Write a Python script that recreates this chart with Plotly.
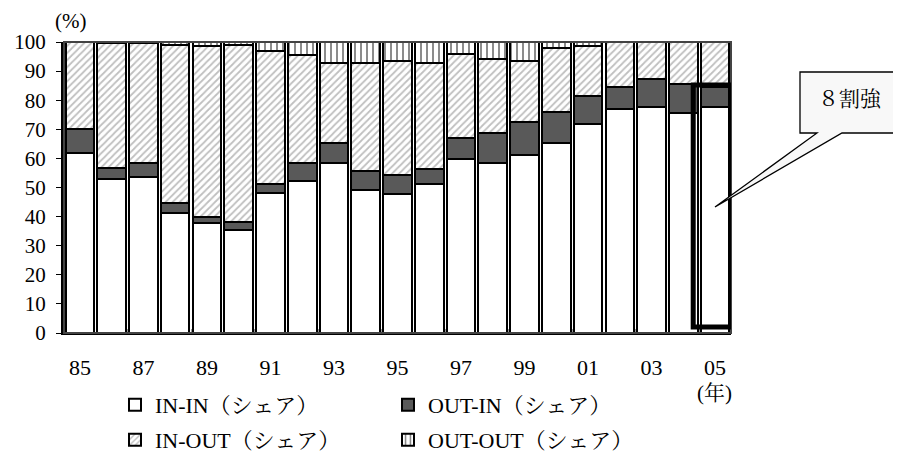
import plotly.graph_objects as go

years = list(range(1985, 2006))
in_in = [62, 53, 53.6, 41.2, 37.7, 35.4, 48.1, 52.2, 58.4, 49.1, 47.8, 51.2, 59.7, 58.3, 61.2, 65.2, 71.8, 76.9, 77.7, 75.6, 77.7]
out_in = [8, 3.7, 4.8, 3.4, 2.2, 2.7, 3.1, 6.2, 6.9, 6.6, 6.5, 5.1, 7.4, 10.3, 11.4, 10.8, 9.6, 7.7, 9.6, 9.9, 6.8]
in_out = [30, 42.8, 41.1, 54.4, 58.7, 60.9, 45.8, 37.1, 27.5, 37.0, 39.2, 36.5, 28.8, 25.6, 20.9, 22.0, 17.1, 15.4, 12.7, 14.5, 15.5]
out_out = [0, 0.5, 0.5, 1.0, 1.4, 1.0, 3.0, 4.5, 7.2, 7.3, 6.5, 7.2, 4.1, 5.8, 6.5, 2.0, 1.5, 0, 0, 0, 0]
tick_years = [1985, 1987, 1989, 1991, 1993, 1995, 1997, 1999, 2001, 2003, 2005]
tick_labels = ["85", "87", "89", "91", "93", "95", "97", "99", "01", "03", "05"]
series_names = ["IN-IN（シェア）", "OUT-IN（シェア）", "IN-OUT（シェア）", "OUT-OUT（シェア）"]
highlight_year = 2005
highlight_top = 85.2
callout_text = "８割強"

FONT = "Liberation Serif, 'Noto Serif CJK JP', 'Noto Sans CJK JP', serif"

fig = go.Figure()
line = dict(color="black", width=2)
fig.add_bar(x=years, y=in_in, name=series_names[0], legend="legend",
            marker=dict(color="white", line=line))
fig.add_bar(x=years, y=out_in, name=series_names[1], legend="legend",
            marker=dict(color="#595959", line=line))
fig.add_bar(x=years, y=in_out, name=series_names[2], legend="legend2",
            marker=dict(color="white", line=line,
                        pattern=dict(shape="/", fgcolor="#808080", bgcolor="white",
                                     size=5, solidity=0.35)))
fig.add_bar(x=years, y=out_out, name=series_names[3], legend="legend2",
            marker=dict(color="white", line=line,
                        pattern=dict(shape="|", fgcolor="black", bgcolor="white",
                                     size=6, solidity=0.3)))

OFF = 8  # page body margin
L, T, W, H = 64, 42, 667, 291  # plot area in screenshot pixels
FW, FH = 901 - OFF, 457 - OFF
def px(x):
    return (x - L) / W
def py(y):
    return (T + H - y) / H

shapes = [
    dict(type="rect", xref="paper", yref="paper", x0=0, x1=1, y0=0, y1=1,
         line=dict(color="#444", width=2), layer="above"),
    dict(type="rect", xref="x", yref="y", x0=highlight_year - 0.69, x1=highlight_year + 0.53,
         y0=2.1, y1=highlight_top, line=dict(color="black", width=5), layer="above"),
    dict(type="path", xref="paper", yref="paper",
         path=(f"M {px(800)},{py(72)} L {px(905)},{py(72)} L {px(905)},{py(133)} "
               f"L {px(842)},{py(133)} L {px(715)},{py(207)} L {px(817)},{py(133)} "
               f"L {px(800)},{py(133)} Z"),
         fillcolor="#f8f8f8", line=dict(color="black", width=1.3), layer="above"),
]

ann_font = dict(family=FONT, size=21, color="black")
annotations = [
    dict(text=callout_text, xref="paper", yref="paper", x=px(850), y=py(99),
         xanchor="center", yanchor="middle", showarrow=False, font=ann_font),
    dict(text="(%)", xref="paper", yref="paper", x=px(70), y=py(21),
         xanchor="center", yanchor="middle", showarrow=False, font=ann_font),
    dict(text="(年)", xref="paper", yref="paper", x=px(714), y=py(393),
         xanchor="center", yanchor="middle", showarrow=False, font=ann_font),
]

fig.update_layout(
    width=FW, height=FH,
    margin=dict(l=L - OFF, r=FW - (L - OFF) - W, t=T - OFF, b=FH - (T - OFF) - H,
                autoexpand=False),
    paper_bgcolor="white", plot_bgcolor="white",
    barmode="stack", bargap=0.1,
    font=dict(family=FONT, size=20, color="black"),
    xaxis=dict(range=[1984.5, 2005.5], tickvals=tick_years, ticktext=tick_labels,
               showgrid=False, zeroline=False, showline=True, linecolor="black", linewidth=2,
               ticks="", ticklabelstandoff=14, tickfont=dict(size=22), automargin=False,
               minor=dict(ticks="inside", tick0=1986.5, dtick=2, ticklen=4, tickcolor="#999")),
    yaxis=dict(range=[0, 100], dtick=10, showgrid=False, zeroline=False,
               showline=True, linecolor="black", linewidth=3, automargin=False,
               ticks="outside", ticklen=5, tickcolor="black", ticklabelstandoff=6,
               tickfont=dict(size=21)),
    legend=dict(orientation="h", x=px(115), y=py(405), xanchor="left", yanchor="middle",
                entrywidth=228, entrywidthmode="pixels", traceorder="normal",
                font=dict(family=FONT, size=22), bgcolor="rgba(0,0,0,0)"),
    legend2=dict(orientation="h", x=px(115), y=py(440), xanchor="left", yanchor="middle",
                 entrywidth=228, entrywidthmode="pixels", traceorder="normal",
                 font=dict(family=FONT, size=22), bgcolor="rgba(0,0,0,0)"),
    shapes=shapes, annotations=annotations, showlegend=True,
)

fig.write_html("out.html")
